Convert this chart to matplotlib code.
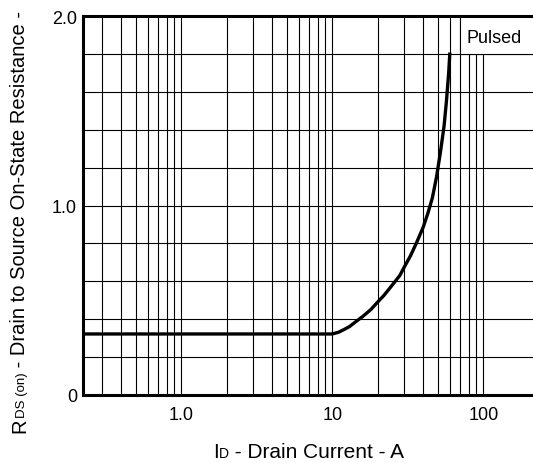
import matplotlib
matplotlib.use("Agg")
import matplotlib.pyplot as plt
from matplotlib.patches import Rectangle

plt.rcParams['font.family'] = ['Liberation Sans', 'DejaVu Sans']

# curve
current = [0.2, 10, 11, 12, 13, 14, 16, 18, 20, 22, 25, 28, 30, 33, 36, 40,
           43, 46, 49, 52, 55, 57, 59, 60]
rds_on = [0.321, 0.321, 0.33, 0.345, 0.36, 0.38, 0.415, 0.45, 0.49, 0.525, 0.58,
          0.63, 0.675, 0.735, 0.80, 0.885, 0.96, 1.04, 1.15, 1.28, 1.42, 1.55, 1.70, 1.80]

x_ticks = [1, 10, 100]
x_labels = ["1.0", "10", "100"]
y_ticks = [0, 1.0, 2.0]
y_labels = ["0", "1.0", "2.0"]

W, H = 533, 464
fig = plt.figure(figsize=(W / 100, H / 100), dpi=100)
ax = fig.add_axes([82.5 / W, (H - 395.7) / H, (540 - 82.5) / W, (395.7 - 17.3) / H])

ax.set_xscale("log")
ax.set_xlim(0.2218, 237.5)
ax.set_ylim(0, 2.0)

# grid: every 1..9 per decade from 0.3 to 100, every 0.2 on y
x_minor = [k * 10.0 ** d for d in (-1, 0, 1) for k in range(1, 10)]
x_minor = [v for v in x_minor if 0.29 < v < 101 and v not in x_ticks]
ax.set_xticks(x_ticks)
ax.set_xticklabels(x_labels, fontsize=13)
ax.set_xticks(x_minor, minor=True)
ax.set_xticklabels([], minor=True)
ax.set_yticks(y_ticks)
ax.set_yticklabels(y_labels, fontsize=13)
ax.set_yticks([0.2 * i for i in range(1, 10) if i != 5], minor=True)
ax.tick_params(which="both", length=0)
ax.tick_params(axis="y", pad=4)
ax.tick_params(axis="x", pad=8)
ax.grid(True, which="both", color="black", linewidth=0.8)
ax.set_axisbelow(True)

for side in ("left", "top", "bottom"):
    ax.spines[side].set_linewidth(2.2)
ax.spines["right"].set_visible(False)

ax.plot(current, rds_on, color="black", linewidth=2.4, zorder=3)

ax.add_patch(Rectangle((70, 1.8), 1000, 0.2, facecolor="white",
                       edgecolor="black", linewidth=0.8, zorder=1.5))
ax.text(78, 1.89, "Pulsed", fontsize=13, va="center", ha="left", zorder=4)

# labels built from pieces so the subscripts sit on the baseline
fig.canvas.draw()
renderer = fig.canvas.get_renderer()


def chain(pieces, x, y, rotation):
    for s, size in pieces:
        t = fig.text(x / W, y / H, s, fontsize=size, rotation=rotation,
                     rotation_mode="anchor", ha="left", va="baseline")
        bb = t.get_window_extent(renderer)
        if rotation == 0:
            x += bb.width
        else:
            y += bb.height


chain([("I", 15), ("D", 10), (" - Drain Current - A", 15)], 213, H - 458.3, 0)
chain([("R", 14.5), ("DS (on)", 9.5), (" - Drain to Source On-State Resistance -", 14.5)],
      25, H - 433, 90)

fig.savefig("out.png", dpi=100)
